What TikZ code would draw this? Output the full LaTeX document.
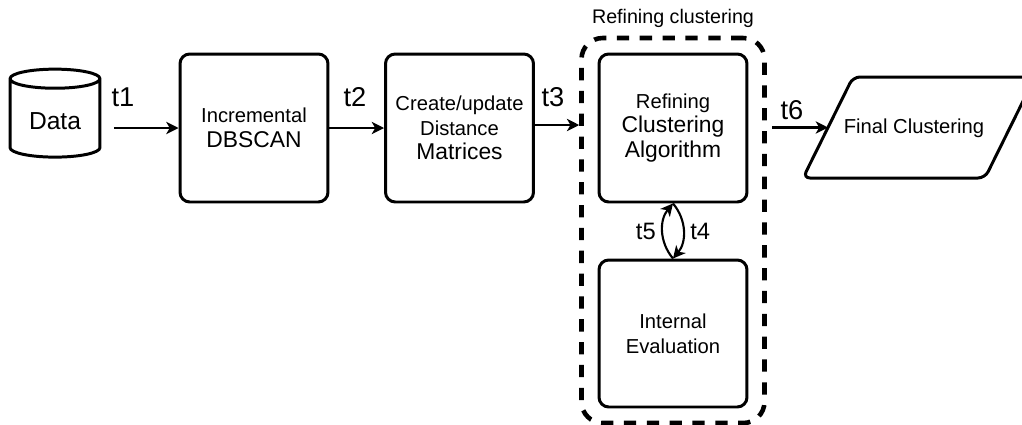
\documentclass[tikz,border=0pt]{standalone}
\usepackage{fontspec}
\setmainfont{Liberation Sans}
\usetikzlibrary{shapes.geometric,fit,arrows.meta}
\newcommand{\lgtxt}[1]{{\fontsize{13}{14}\selectfont #1}}

\begin{document}
\begin{tikzpicture}[x=0.02cm,y=-0.02cm,
    stage/.style={draw,line width=1.7pt,rounded corners=5.5pt,minimum width=2.96cm,minimum height=2.96cm,align=center,font=\fontsize{11.5}{14}\selectfont},
    flow/.style={-{Stealth[length=7pt,width=7pt,inset=2pt]},line width=1.2pt},
    tlab/.style={font=\fontsize{15.5}{17}\selectfont}]
    \useasboundingbox (0,0) rectangle (1022,424);
    % data source
    \node[draw,line width=1.7pt,cylinder,shape border rotate=90,aspect=0.3,minimum width=1.8cm,minimum height=1.76cm,font=\fontsize{14}{16}\selectfont] (data) at (55,121) {Data};
    % stages
    \node[stage] (dbscan) at (254,128) {Incremental\\\lgtxt{DBSCAN}};
    \node[stage] (dist) at (459.5,128) {Create/update\\Distance\\\lgtxt{Matrices}};
    \node[stage] (alg) at (673,128) {Refining\\\lgtxt{Clustering}\\\lgtxt{Algorithm}};
    \node[stage,minimum height=2.94cm] (eval) at (673,333.5) {Internal\\Evaluation};
    % refining group
    \node[draw,dashed,dash pattern=on 7pt off 6pt,line width=2.6pt,rounded corners=12pt,fit=(alg)(eval),inner xsep=0.32cm,inner ysep=0.29cm] (group) {};
    \node[above=1pt,font=\fontsize{11.2}{13}\selectfont] (grouplab) at (group.north) {Refining clustering};
    % output
    \draw[line width=1.7pt,rounded corners=4pt] (803,178) -- (853,77) -- (1035,77) -- (985,178) -- cycle;
    \coordinate (finalin) at (828,127.5);
    \node[font=\fontsize{11.5}{14}\selectfont] (final) at (914,128) {Final Clustering};
    % connectors
    \draw[flow,shorten <=7pt] (data.east |- dbscan.west) -- (dbscan.west);
    \draw[flow] (dbscan.east) -- (dist.west);
    \draw[flow] (dist.east |- 0,125) -- (group.west |- 0,125);
    \draw[flow,shorten <=3pt] (group.east |- finalin) -- (finalin);
    \draw[flow] (eval.north) to[bend left=40] node[left,font=\fontsize{13.5}{15}\selectfont] (t5) {t5} (alg.south);
    \draw[flow] (alg.south) to[bend left=40] node[right,font=\fontsize{13.5}{15}\selectfont] (t4) {t4} (eval.north);
    % labels
    \node[tlab] (t1) at (123,97) {t1};
    \node[tlab] (t2) at (355,97) {t2};
    \node[tlab] (t3) at (553,97) {t3};
    \node[tlab] (t6) at (792,110) {t6};
\end{tikzpicture}
\end{document}
